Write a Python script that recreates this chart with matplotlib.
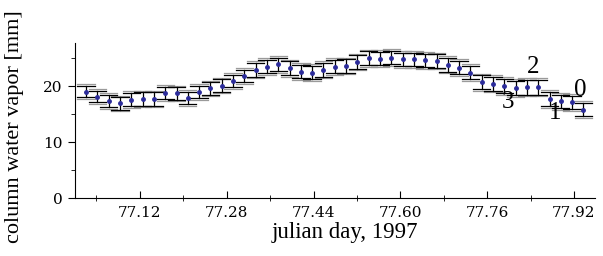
import matplotlib
matplotlib.use('Agg')
import matplotlib.pyplot as plt
from matplotlib.ticker import MultipleLocator

# julian day (half-hour steps) and column water vapor [mm]
day = [77.0208, 77.0417, 77.0625, 77.0833, 77.1042, 77.1250, 77.1458, 77.1667,
       77.1875, 77.2083, 77.2292, 77.2500, 77.2708, 77.2917, 77.3125, 77.3333,
       77.3542, 77.3750, 77.3958, 77.4167, 77.4375, 77.4583, 77.4792, 77.5000,
       77.5208, 77.5417, 77.5625, 77.5833, 77.6042, 77.6250, 77.6458, 77.6667,
       77.6875, 77.7083, 77.7292, 77.7500, 77.7708, 77.7917, 77.8125, 77.8333,
       77.8542, 77.8750, 77.8958, 77.9167, 77.9375]
cwv = [19.0, 18.1, 17.3, 16.9, 17.6, 17.7, 17.7, 18.8, 18.7, 17.9,
       19.0, 19.6, 20.1, 20.9, 21.8, 22.9, 23.5, 23.9, 23.2, 22.6,
       22.4, 22.9, 23.5, 23.6, 24.3, 25.0, 24.9, 25.1, 24.8, 24.8,
       24.6, 24.5, 23.8, 23.3, 22.4, 20.7, 20.4, 20.0, 19.7, 19.8,
       19.8, 17.7, 17.3, 17.1, 15.8]
err = [1.0, 1.0, 1.1, 1.1, 1.2, 1.2, 1.2, 1.1, 1.1, 1.1,
       1.1, 1.1, 1.1, 1.1, 1.1, 1.2, 1.2, 1.2, 1.2, 1.2,
       1.2, 1.2, 1.2, 1.2, 1.2, 1.2, 1.2, 1.2, 1.2, 1.2,
       1.2, 1.2, 1.2, 1.2, 1.2, 1.2, 1.2, 1.3, 1.3, 1.3,
       1.3, 1.3, 1.2, 1.2, 1.2]

# curve labels
lab_txt = ['0', '1', '2', '3']
lab_x = [77.932, 77.886, 77.845, 77.799]
lab_y = [19.3, 15.2, 23.4, 17.1]

plt.rcParams['font.family'] = ['Liberation Serif', 'DejaVu Serif']

fig = plt.figure(figsize=(6.03, 2.56), dpi=100)
ax = fig.add_axes([0.124, 0.226, 0.862, 0.606])

half = 0.016
for x, y, e in zip(day, cwv, err):
    ax.plot([x, x], [y - e, y + e], color='black', lw=0.9, zorder=2)
    # black caps
    ax.plot([x - half, x + half], [y + e, y + e], color='black', lw=0.9, zorder=2)
    ax.plot([x - half, x + half], [y - e, y - e], color='black', lw=0.9, zorder=2)
    # gray caps (second estimate)
    ax.plot([x - half, x + half], [y + e + 0.3, y + e + 0.3], color='#9a9a9a', lw=0.9, zorder=1)
    ax.plot([x - half, x + half], [y - e - 0.3, y - e - 0.3], color='#9a9a9a', lw=0.9, zorder=1)

ax.plot(day, cwv, 'o', color='#2b2b9a', markersize=2.5, zorder=3)

for t, x, y in zip(lab_txt, lab_x, lab_y):
    ax.text(x, y, t, fontsize=18, ha='center', va='center')

ax.set_xlim(77.0, 77.958)
ax.set_ylim(0, 27.7)
ax.set_xticks([77.12, 77.28, 77.44, 77.60, 77.76, 77.92])
ax.set_xticklabels(['77.12', '77.28', '77.44', '77.60', '77.76', '77.92'],
                   family='DejaVu Serif')
ax.set_xticks([77.04, 77.20, 77.36, 77.52, 77.68, 77.84], minor=True)
ax.set_yticks([0, 10, 20])
ax.set_yticklabels(['0', '10', '20'], family='DejaVu Serif')
ax.yaxis.set_minor_locator(MultipleLocator(5))

ax.spines['top'].set_visible(False)
ax.spines['right'].set_visible(False)
ax.tick_params(axis='x', which='major', direction='in', length=5, labelsize=11, pad=6)
ax.tick_params(axis='x', which='minor', direction='inout', length=4)
ax.tick_params(axis='y', which='major', direction='out', length=5, labelsize=11, pad=4)
ax.tick_params(axis='y', which='minor', direction='out', length=3)

ax.set_xlabel('julian day, 1997', fontsize=16.5)
ax.xaxis.set_label_coords(0.519, -0.155)
ax.set_ylabel('column water vapor [mm]', fontsize=16)
ax.yaxis.set_label_coords(-0.097, 0.46)

fig.savefig('out.png', dpi=100)
